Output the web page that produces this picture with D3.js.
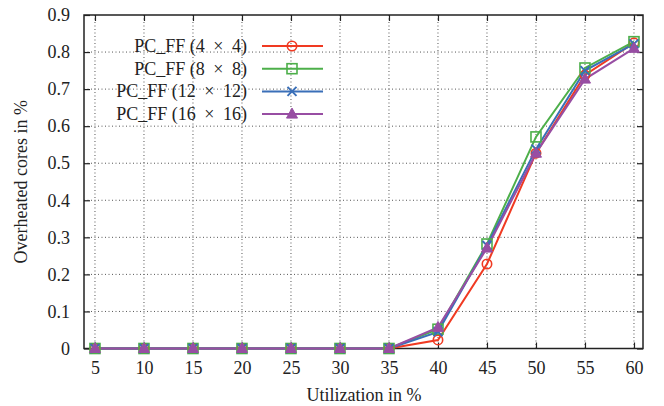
<!DOCTYPE html>
<html><head><meta charset="utf-8">
<script src="https://cdn.jsdelivr.net/npm/d3@7"></script>
<style>body{margin:0;background:#fff}svg{display:block}</style>
</head><body><svg id="c" width="664" height="406"></svg>
<script>
const utilization = [5,10,15,20,25,30,35,40,45,50,55,60];
const pc4  = [0,0,0,0,0,0,0,0.023,0.228,0.527,0.738,0.825];
const pc8  = [0,0,0,0,0,0,0,0.052,0.282,0.571,0.757,0.828];
const pc12 = [0,0,0,0,0,0,0,0.045,0.278,0.538,0.750,0.822];
const pc16 = [0,0,0,0,0,0,0,0.057,0.271,0.527,0.727,0.810];
const seriesNames = [["4","4"],["8","8"],["12","12"],["16","16"]]; // PC_FF (a × b)
const yTicks = [0,0.1,0.2,0.3,0.4,0.5,0.6,0.7,0.8,0.9];
const xTicks = utilization;

const FONT = '"Liberation Serif"';
const FS = "18px";
const colors = ["#f03a22","#4daf4a","#3a6fb8","#984ea3"];
const markers = ["circle","square","cross","triangle"];
const series = [pc4,pc8,pc12,pc16];

const svg = d3.select("#c");
const L=84,R=643,T=15,B=348.5;
const x = d3.scaleLinear().domain([3.88,60.92]).range([L,R]);
const y = d3.scaleLinear().domain([0,0.9]).range([B,T]);

const g = svg.append("g");
g.selectAll(".gx").data(xTicks).join("line").attr("x1",d=>x(d)).attr("x2",d=>x(d)).attr("y1",T).attr("y2",B)
 .attr("stroke","#555").attr("stroke-width",1).attr("stroke-dasharray","1,2.5");
g.selectAll(".gy").data(yTicks.slice(1,-1)).join("line").attr("y1",d=>y(d)).attr("y2",d=>y(d)).attr("x1",L).attr("x2",R)
 .attr("stroke","#555").attr("stroke-width",1).attr("stroke-dasharray","1,2.5");

const tk=6;
const axB = d3.axisBottom(x).tickValues(xTicks).tickSize(-tk).tickPadding(13).tickFormat(d3.format("d"));
const axT = d3.axisTop(x).tickValues(xTicks).tickSize(-tk).tickFormat("");
const axL = d3.axisLeft(y).tickValues(yTicks).tickSize(-tk).tickPadding(14).tickFormat(d=>d===0?"0":d3.format(".1f")(d));
const axR = d3.axisRight(y).tickValues(yTicks).tickSize(-tk).tickFormat("");
function style(sel){sel.attr("font-family",null).attr("font-size",null);
 sel.select(".domain").remove();sel.selectAll("line").attr("stroke","#222").attr("stroke-width",1.2);
 sel.selectAll("text").style("font-family",FONT).style("font-size",FS).attr("fill","#222");}
svg.append("g").attr("transform",`translate(0,${B})`).call(axB).call(style);
svg.append("g").attr("transform",`translate(0,${T})`).call(axT).call(style);
svg.append("g").attr("transform",`translate(${L},0)`).call(axL).call(style);
svg.append("g").attr("transform",`translate(${R},0)`).call(axR).call(style);
svg.append("rect").attr("x",L).attr("y",T).attr("width",R-L).attr("height",B-T).attr("fill","none").attr("stroke","#222").attr("stroke-width",1.5);

function drawMarker(sel,type,color){
  if(type==="circle") sel.append("circle").attr("r",4.7).attr("fill","none").attr("stroke",color).attr("stroke-width",1.6);
  else if(type==="square") sel.append("rect").attr("x",-5).attr("y",-5).attr("width",10).attr("height",10).attr("fill","none").attr("stroke",color).attr("stroke-width",1.6);
  else if(type==="cross") sel.append("path").attr("d","M-4.5,-4.5L4.5,4.5M-4.5,4.5L4.5,-4.5").attr("stroke",color).attr("stroke-width",2);
  else sel.append("path").attr("d","M0,-6L5.5,4L-5.5,4Z").attr("fill",color).attr("stroke",color).attr("stroke-width",1);
}

const line = d3.line().x((d,i)=>x(utilization[i])).y(d=>y(d));
series.forEach((s,k)=>{
  svg.append("path").datum(s).attr("d",line).attr("fill","none").attr("stroke",colors[k]).attr("stroke-width",2);
});
series.forEach((s,k)=>{
  s.forEach((v,i)=>{
    const m=svg.append("g").attr("transform",`translate(${x(utilization[i])},${y(v)})`);
    drawMarker(m,markers[k],colors[k]);
  });
});

function txt(){return svg.append("text").style("font-family",FONT).style("font-size",FS).attr("fill","#222");}
seriesNames.forEach((n,k)=>{
  const yy=46+k*22.7;
  const t=txt().attr("x",247).attr("y",yy).attr("dy","0.33em").attr("text-anchor","end");
  t.append("tspan").text(`PC_FF (${n[0]} `);
  t.append("tspan").attr("dx",4).text("×");
  t.append("tspan").attr("dx",4).text(` ${n[1]})`);
  svg.append("line").attr("x1",262).attr("x2",323).attr("y1",yy).attr("y2",yy).attr("stroke",colors[k]).attr("stroke-width",2);
  const m=svg.append("g").attr("transform",`translate(292,${yy})`);
  drawMarker(m,markers[k],colors[k]);
});

txt().attr("x",364).attr("y",401).attr("text-anchor","middle").text("Utilization in %");
txt().attr("transform",`translate(27,${(T+B)/2}) rotate(-90)`).attr("text-anchor","middle").text("Overheated cores in %");
</script></body></html>
